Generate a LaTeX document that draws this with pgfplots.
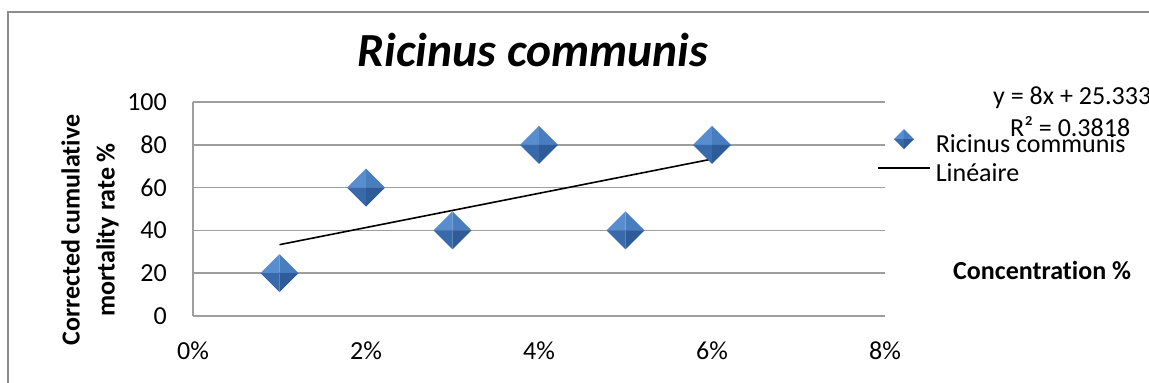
\documentclass[border=0pt]{standalone}
\usepackage{fontspec}
\setmainfont{Carlito}[Ligatures=NoCommon]
\usepackage{pgfplots}
\pgfplotsset{compat=1.18}

\definecolor{gridgray}{RGB}{158,158,158}
\definecolor{framegray}{RGB}{140,140,140}
\definecolor{diaUL}{RGB}{88,142,208}
\definecolor{diaUR}{RGB}{72,125,192}
\definecolor{diaLL}{RGB}{56,105,170}
\definecolor{diaLR}{RGB}{46,92,152}

% bevelled diamond marker: four facets, lighter on top
\pgfdeclareplotmark{bevdiamond}{%
  \pgfpathmoveto{\pgfqpoint{0pt}{0pt}}%
  \pgfpathlineto{\pgfqpoint{-\pgfplotmarksize}{0pt}}%
  \pgfpathlineto{\pgfqpoint{0pt}{\pgfplotmarksize}}%
  \pgfpathclose
  \pgfsetfillcolor{diaUL}\pgfusepathqfill
  \pgfpathmoveto{\pgfqpoint{0pt}{0pt}}%
  \pgfpathlineto{\pgfqpoint{0pt}{\pgfplotmarksize}}%
  \pgfpathlineto{\pgfqpoint{\pgfplotmarksize}{0pt}}%
  \pgfpathclose
  \pgfsetfillcolor{diaUR}\pgfusepathqfill
  \pgfpathmoveto{\pgfqpoint{0pt}{0pt}}%
  \pgfpathlineto{\pgfqpoint{-\pgfplotmarksize}{0pt}}%
  \pgfpathlineto{\pgfqpoint{0pt}{-\pgfplotmarksize}}%
  \pgfpathclose
  \pgfsetfillcolor{diaLL}\pgfusepathqfill
  \pgfpathmoveto{\pgfqpoint{0pt}{0pt}}%
  \pgfpathlineto{\pgfqpoint{0pt}{-\pgfplotmarksize}}%
  \pgfpathlineto{\pgfqpoint{\pgfplotmarksize}{0pt}}%
  \pgfpathclose
  \pgfsetfillcolor{diaLR}\pgfusepathqfill
}

\pgfplotsset{
  diamond legend/.style={legend image code/.code={%
    \draw[mark repeat=2, mark phase=2, ##1, mark size=10pt, yshift=7pt]
      plot coordinates {(0pt,0pt) (26pt,0pt) (52pt,0pt)};}},
  trend legend/.style={legend image code/.code={%
    \draw[##1, yshift=7pt] (0pt,0pt) -- (52pt,0pt);}},
}

\pgfplotstableread{
conc rate
1 20
2 60
3 40
4 80
5 40
6 80
}\mortality

\begin{document}
\begin{tikzpicture}[x=1pt,y=1pt]
\path[use as bounding box] (0,0) rectangle (1149,383);
% chart area frame
\draw[framegray, line width=1.5pt] (8,-10) -- (8,371) -- (1160,371);

\begin{axis}[
  at={(193pt,67pt)}, anchor=south west,
  scale only axis, width=692pt, height=214pt,
  xmin=0, xmax=8, ymin=0, ymax=100,
  xtick={0,2,4,6,8},
  xticklabels={0\%,2\%,4\%,6\%,8\%},
  ytick={0,20,40,60,80,100},
  axis lines*=left,
  axis line style={gridgray, line width=1.6pt},
  ymajorgrids,
  grid style={gridgray, line width=1.6pt},
  major tick length=0pt,
  /pgf/number format/assume math mode=true,
  tick label style={font=\fontsize{26}{30}\selectfont},
  yticklabel style={anchor=east, inner sep=0pt, xshift=-26pt},
  xticklabel style={anchor=north, inner sep=0pt, yshift=-26pt},
  clip=false,
  legend style={at={(0.9884,0.874)}, anchor=north west, draw=none, fill=none,
    inner sep=0pt, row sep=4pt,
    font=\fontsize{26}{30}\selectfont,
    nodes={inner sep=0pt, text height=19pt, text depth=6pt},
    /tikz/every odd column/.append style={column sep=5pt}},
  legend cell align=left,
]
\addplot[only marks, mark=bevdiamond, mark size=19pt, diamond legend]
  table[x=conc, y=rate] {\mortality};
\addlegendentry{Ricinus communis}
% linear trend y = 8x + 25.333
\addplot[black, line width=1.6pt, no marks, trend legend]
  coordinates {(1,33.333) (6,73.333)};
\addlegendentry{Linéaire}
\end{axis}

\node[anchor=base, font=\fontsize{47.5}{54}\selectfont\bfseries\itshape]
  at (533,316) {Ricinus communis};
\node[rotate=90, align=center, font=\fontsize{26}{35}\selectfont\bfseries]
  at (90,153) {Corrected cumulative\\mortality rate \%};
\node[anchor=base west, inner sep=0pt, font=\fontsize{26}{30}\selectfont]
  at (993,278) {y = 8x + 25.333};
\node[anchor=base west, inner sep=0pt, font=\fontsize{26}{30}\selectfont]
  at (1010,246) {R² = 0.3818};
\node[anchor=base west, inner sep=0pt, font=\fontsize{26}{30}\selectfont\bfseries]
  at (953,103) {Concentration \%};
\end{tikzpicture}
\end{document}
